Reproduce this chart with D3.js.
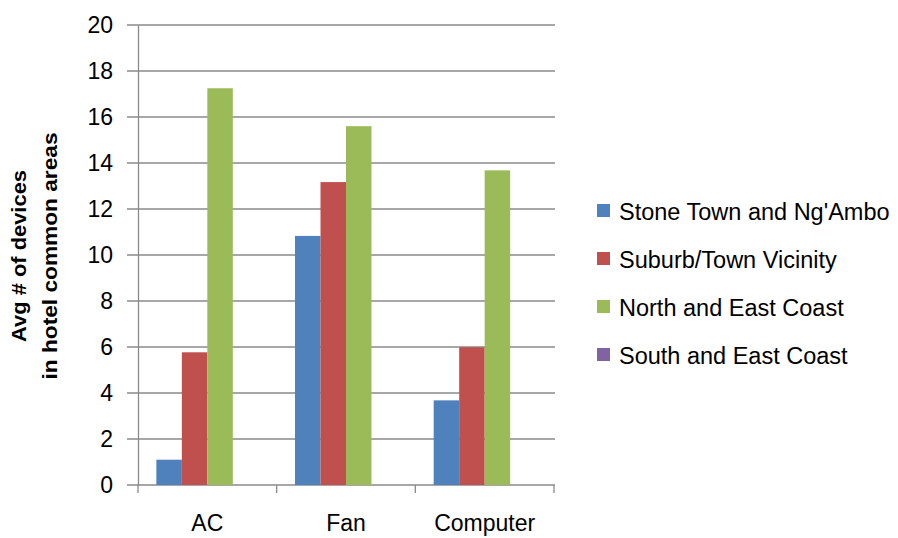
<!DOCTYPE html>
<html><head><meta charset="utf-8">
<script src="https://cdn.jsdelivr.net/npm/d3@7"></script>
<style>body{margin:0;background:#fff}svg{display:block}text{font-family:"Liberation Sans",Arial,sans-serif}</style>
</head><body><svg id="c" width="898" height="538"></svg>
<script>
const categories = ["AC", "Fan", "Computer"];
const seriesNames = ["Stone Town and Ng'Ambo", "Suburb/Town Vicinity", "North and East Coast", "South and East Coast"];
const stoneTown = [1.1, 10.83, 3.68];
const suburb = [5.77, 13.17, 5.99];
const northEast = [17.25, 15.6, 13.68];
const southEast = [0, 0, 0];
const yTicks = [0, 2, 4, 6, 8, 10, 12, 14, 16, 18, 20];
const colors = ["#4F81BD", "#C0504D", "#9BBB59", "#8064A2"];
const yTitle = ["Avg # of devices", "in hotel common areas"];

const series = [stoneTown, suburb, northEast, southEast];
const svg = d3.select("#c");
const mLeft = 138, mRight = 554, mTop = 25, mBottom = 485;
const x0 = d3.scaleBand().domain(categories).range([mLeft, mRight]).paddingInner(0).paddingOuter(0);
const x1 = d3.scaleBand().domain(d3.range(series.length)).range([0, x0.bandwidth()]).paddingInner(0).paddingOuter(0.72);
const y = d3.scaleLinear().domain([0, 20]).range([mBottom, mTop]);

// gridlines
svg.append("g").selectAll("line").data(yTicks).join("line")
  .attr("x1", mLeft - 11).attr("x2", mRight + 1)
  .attr("y1", d => y(d)).attr("y2", d => y(d))
  .attr("stroke", "#8a8a8a").attr("stroke-width", 1.3);

// y axis
const yAxis = svg.append("g").attr("transform", `translate(${mLeft},0)`)
  .call(d3.axisLeft(y).tickValues(yTicks).tickSize(0).tickPadding(25));
yAxis.select(".domain").attr("stroke", "#8a8a8a").attr("stroke-width", 1.3);
yAxis.selectAll("text").attr("font-size", 23).attr("fill", "#000");

// x axis
const xAxis = svg.append("g").attr("transform", `translate(0,${mBottom})`)
  .call(d3.axisBottom(x0).tickSize(0));
xAxis.select(".domain").remove();
xAxis.selectAll("text").attr("font-size", 23).attr("fill", "#000").attr("dy", null).attr("y", 46);
const tickPos = [mLeft].concat(categories.map(c => x0(c) + x0.bandwidth()));
svg.append("g").selectAll("line").data(tickPos).join("line")
  .attr("x1", d => d).attr("x2", d => d).attr("y1", mBottom).attr("y2", mBottom + 8)
  .attr("stroke", "#8a8a8a").attr("stroke-width", 1.3);

// bars
categories.forEach((cat, ci) => {
  series.forEach((s, si) => {
    if (s[ci] <= 0) return;
    svg.append("rect")
      .attr("x", x0(cat) + x1(si)).attr("width", x1.bandwidth())
      .attr("y", y(s[ci])).attr("height", y(0) - y(s[ci]))
      .attr("fill", colors[si]);
  });
});

// y title
const t = svg.append("text").attr("transform", "translate(0,256) rotate(-90)")
  .attr("text-anchor", "middle").attr("font-weight", "bold").attr("font-size", 21).attr("fill", "#000");
t.append("tspan").attr("x", 0).attr("y", 26).attr("textLength", 172).attr("lengthAdjust", "spacingAndGlyphs").text(yTitle[0]);
t.append("tspan").attr("x", 0).attr("y", 57).attr("textLength", 247).attr("lengthAdjust", "spacingAndGlyphs").text(yTitle[1]);

// legend
const lg = svg.append("g");
seriesNames.forEach((n, i) => {
  const yy = 211 + i * 48;
  lg.append("rect").attr("x", 597).attr("y", yy - 7).attr("width", 13).attr("height", 13).attr("fill", colors[i]);
  lg.append("text").attr("x", 619).attr("y", yy + 9).attr("font-size", 23.5).attr("fill", "#000").text(n);
});
</script></body></html>
